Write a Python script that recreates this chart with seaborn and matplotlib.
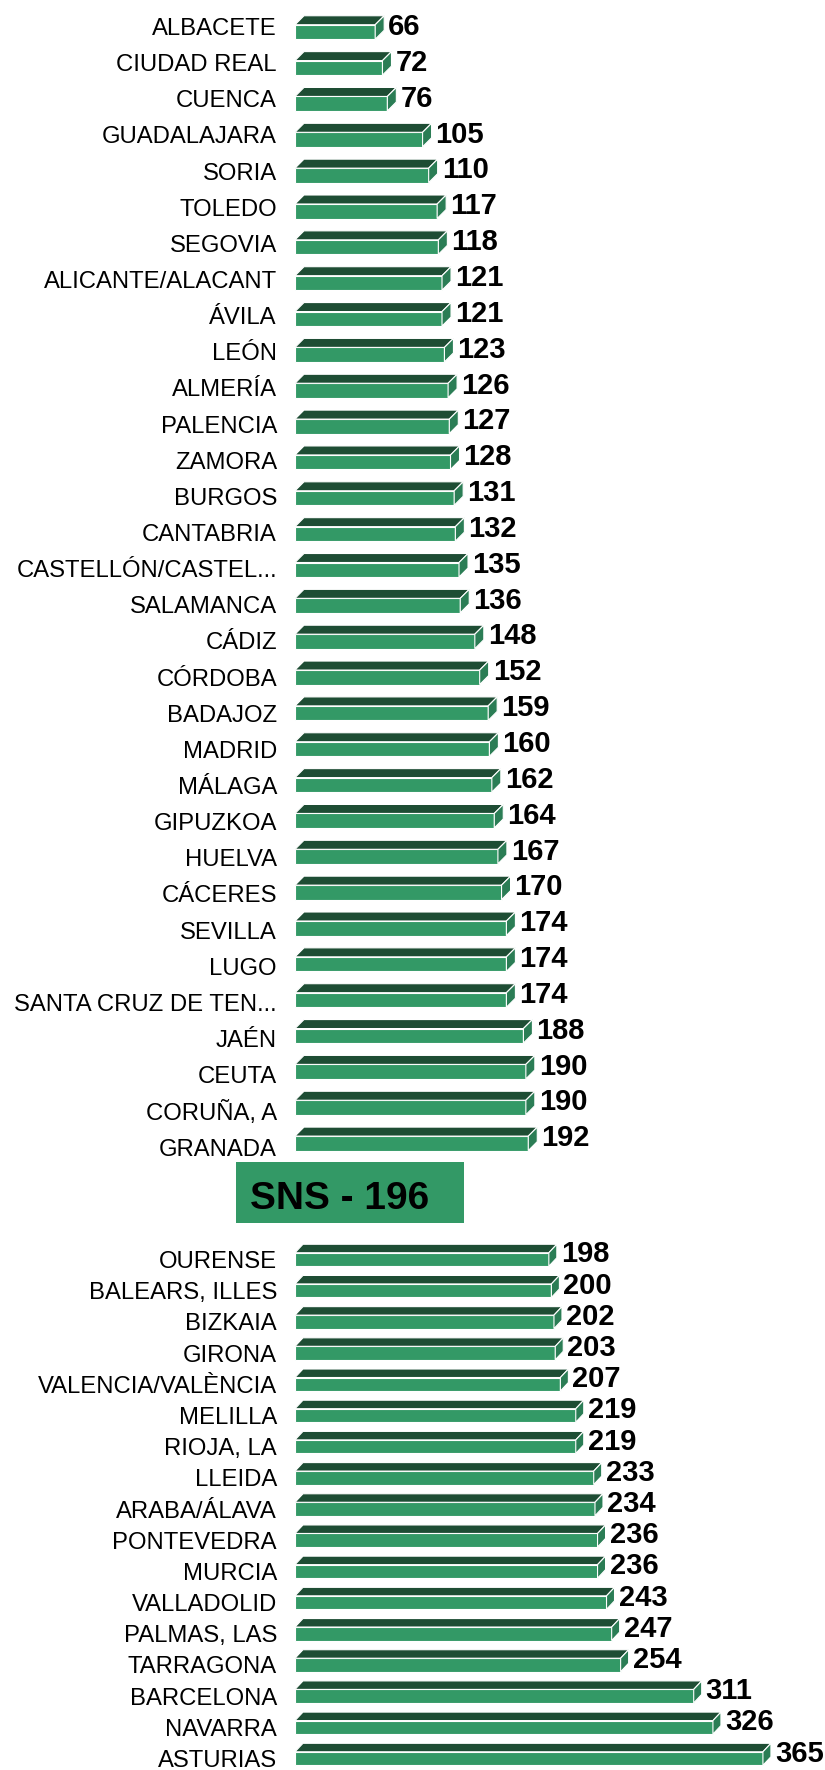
import matplotlib
matplotlib.use("Agg")
import matplotlib.pyplot as plt
from matplotlib.patches import Polygon, Rectangle
import numpy as np
import pandas as pd
import seaborn as sns

# upper block (below the SNS average)
top_names = ["ALBACETE", "CIUDAD REAL", "CUENCA", "GUADALAJARA", "SORIA", "TOLEDO",
             "SEGOVIA", "ALICANTE/ALACANT", "ÁVILA", "LEÓN", "ALMERÍA", "PALENCIA",
             "ZAMORA", "BURGOS", "CANTABRIA", "CASTELLÓN/CASTEL...", "SALAMANCA",
             "CÁDIZ", "CÓRDOBA", "BADAJOZ", "MADRID", "MÁLAGA", "GIPUZKOA", "HUELVA",
             "CÁCERES", "SEVILLA", "LUGO", "SANTA CRUZ DE TEN...", "JAÉN", "CEUTA",
             "CORUÑA, A", "GRANADA"]
top_values = [66, 72, 76, 105, 110, 117, 118, 121, 121, 123, 126, 127, 128, 131, 132,
              135, 136, 148, 152, 159, 160, 162, 164, 167, 170, 174, 174, 174, 188, 190,
              190, 192]

# lower block (above the SNS average)
bottom_names = ["OURENSE", "BALEARS, ILLES", "BIZKAIA", "GIRONA", "VALENCIA/VALÈNCIA",
                "MELILLA", "RIOJA, LA", "LLEIDA", "ARABA/ÁLAVA", "PONTEVEDRA", "MURCIA",
                "VALLADOLID", "PALMAS, LAS", "TARRAGONA", "BARCELONA", "NAVARRA", "ASTURIAS"]
bottom_values = [198, 200, 202, 203, 207, 219, 219, 233, 234, 236, 236, 243, 247, 254,
                 311, 326, 365]

sns_label = "SNS"
sns_value = 196

FRONT = "#339966"
TOP = "#1e4d34"
SIDE = "#2b7d55"

W, H = 825, 1770
sns.set_theme(style="white")
plt.rcParams["font.family"] = ["Liberation Sans", "DejaVu Sans"]

fig = plt.figure(figsize=(W / 100, H / 100), dpi=100)


def bar_panel(names, values, top_px, bottom_px, first_px, pitch, sx, front_px, dx_px, dy_px,
              lab_shift=0.0, lab_pitch=None):
    x0 = 295
    ax = fig.add_axes([x0 / W, 1 - bottom_px / H, (W - x0) / W, (bottom_px - top_px) / H])
    df = pd.DataFrame({"name": names, "value": values})
    width = front_px / pitch
    sns.barplot(data=df, x="value", y="name", orient="h", color=FRONT, saturation=1,
                width=width, edgecolor="white", linewidth=0.8, ax=ax)
    ax.set_xlim(0, (W - x0) / sx)
    ax.set_ylim((bottom_px - first_px) / pitch, (top_px - first_px) / pitch)
    dx = dx_px / sx
    dy = dy_px / pitch
    h = width / 2
    for i, v in enumerate(values):
        top = Polygon([(0, i - h), (v, i - h), (v + dx, i - h - dy), (dx, i - h - dy)],
                      closed=True, facecolor=TOP, edgecolor="white", linewidth=0.8)
        side = Polygon([(v, i - h), (v + dx, i - h - dy), (v + dx, i + h - dy), (v, i + h)],
                       closed=True, facecolor=SIDE, edgecolor="white", linewidth=0.8)
        ax.add_patch(top)
        ax.add_patch(side)
        ax.text(v + dx + 4 / sx, i - 5 / pitch, str(v), ha="left", va="center",
                fontsize=21, fontweight="bold", color="black", clip_on=False)
    # category labels (slightly different pitch than the bars in the original)
    lp = (lab_pitch or pitch) / pitch
    ax.set_yticks([lab_shift / pitch + i * lp for i in range(len(names))])
    ax.set_yticklabels(names)
    ax.set_xlabel("")
    ax.set_ylabel("")
    ax.set_xticks([])
    ax.tick_params(axis="y", length=0, pad=13, labelsize=17.2, labelcolor="black")
    for s in ax.spines.values():
        s.set_visible(False)
    ax.patch.set_alpha(0)
    return ax


bar_panel(top_names, top_values, 0, 1160, 32, 35.85, 1.215, 14.5, 9, 9,
          lab_shift=-5.6, lab_pitch=36.15)
bar_panel(bottom_names, bottom_values, 1235, H, 1259.5, 31.19, 1.282, 13.5, 8, 8.5)

# SNS average box between both blocks
fig.patches.append(Rectangle((236 / W, 1 - 1223 / H), (464 - 236) / W, 61 / H,
                             transform=fig.transFigure, facecolor=FRONT, edgecolor="none"))
fig.text(250 / W, 1 - 1199 / H, f"{sns_label} - {sns_value}", ha="left", va="center",
         fontsize=28, fontweight="bold", color="black")

fig.savefig("out.png", dpi=100)
